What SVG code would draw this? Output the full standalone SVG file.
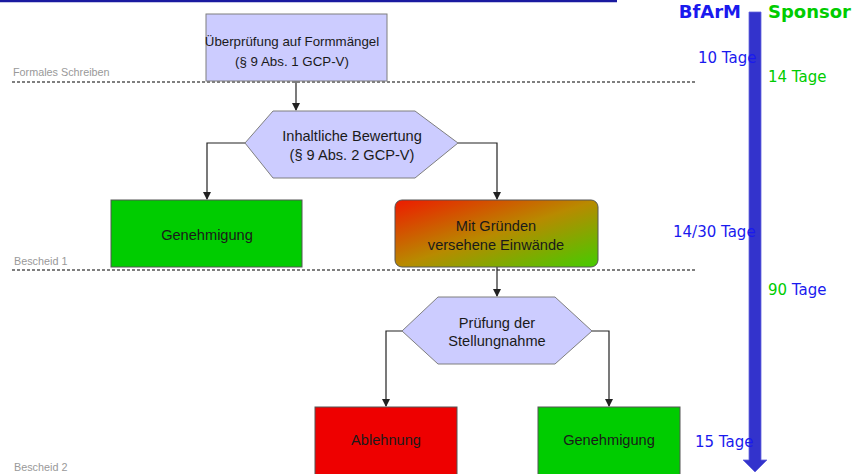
<svg xmlns="http://www.w3.org/2000/svg" width="855" height="474" viewBox="0 0 855 474">
<style>
.lav{fill:#ccccff;stroke:#7f7f7f;stroke-width:1}
.box{stroke:#555;stroke-width:1}
.t{font-family:"Liberation Sans",Arial,sans-serif;font-size:14.6px;fill:#1a1a1a;text-anchor:middle}
.s{font-size:13.3px}
.lab{font-family:"Liberation Sans",Arial,sans-serif;font-size:10.8px;fill:#999}
.sep{stroke:#555;stroke-width:1.5;stroke-dasharray:3,2;fill:none}
.c{stroke:#222;stroke-width:1.2;fill:none;marker-end:url(#ah)}
.v{font-family:"DejaVu Sans",Verdana,sans-serif;font-size:15px}
.h{font-family:"DejaVu Sans",Verdana,sans-serif;font-size:18px;font-weight:bold}
.b{fill:#1a1aee}
.g{fill:#00cc00}
</style>
<defs>
<marker id="ah" markerWidth="8" markerHeight="8" refX="7" refY="4" orient="auto" markerUnits="userSpaceOnUse">
<path d="M0,0 L8,4 L0,8 Z" fill="#222"/>
</marker>
<linearGradient id="rg" x1="0" y1="0" x2="1" y2="1">
<stop offset="0" stop-color="#ee1a00"/>
<stop offset="0.5" stop-color="#b88a00"/>
<stop offset="1" stop-color="#44cc00"/>
</linearGradient>
</defs>
<line x1="0" y1="1" x2="617" y2="1" stroke="#1a1aa0" stroke-width="2.5"/>
<g id="separators">
<line class="sep" x1="12" y1="82" x2="695" y2="82"/>
<line class="sep" x1="12" y1="270" x2="695" y2="270"/>
<text class="lab" x="13" y="76">Formales Schreiben</text>
<text class="lab" x="14" y="265">Bescheid 1</text>
<text class="lab" x="14" y="471">Bescheid 2</text>
</g>
<g id="connectors">
<line class="c" x1="296" y1="81" x2="296" y2="110"/>
<polyline class="c" points="245,143 207,143 207,199"/>
<polyline class="c" points="458,143 497,143 497,199"/>
<line class="c" x1="497" y1="267" x2="497" y2="296"/>
<polyline class="c" points="402,331 386,331 386,406"/>
<polyline class="c" points="592,331 609,331 609,406"/>
</g>
<g id="n1">
<rect class="lav" x="206" y="14" width="181" height="67"/>
<text class="t s" x="292" y="46">Überprüfung auf Formmängel</text>
<text class="t s" x="292" y="66">(§ 9 Abs. 1 GCP-V)</text>
</g>
<g id="n2">
<polygon class="lav" points="245,143 273,111 415,111 458,143 415,178 273,178"/>
<text class="t" x="352" y="141">Inhaltliche Bewertung</text>
<text class="t" x="352" y="160">(§ 9 Abs. 2 GCP-V)</text>
</g>
<g id="n3">
<rect class="box" x="111" y="200" width="191" height="67" fill="#00cc00"/>
<text class="t" x="207" y="240">Genehmigung</text>
</g>
<g id="n4">
<rect class="box" x="395" y="200" width="203" height="67" rx="7" fill="url(#rg)"/>
<text class="t" x="496" y="231">Mit Gründen</text>
<text class="t" x="496" y="250">versehene Einwände</text>
</g>
<g id="n5">
<polygon class="lav" points="402,331 438,297 555,297 592,331 555,364 438,364"/>
<text class="t" x="497" y="328">Prüfung der</text>
<text class="t" x="497" y="346">Stellungnahme</text>
</g>
<g id="n6">
<rect class="box" x="315" y="407" width="142" height="70" fill="#ee0000"/>
<text class="t" x="386" y="445">Ablehnung</text>
</g>
<g id="n7">
<rect class="box" x="538" y="407" width="142" height="70" fill="#00cc00"/>
<text class="t" x="609" y="445">Genehmigung</text>
</g>
<g id="timeline">
<path d="M749,12 L761,12 L761,460 L767,460 L755,472 L743,460 L749,460 Z" fill="#3333cc" stroke="#6666dd" stroke-width="0.8"/>
<text class="h b" x="741" y="18" text-anchor="end">BfArM</text>
<text class="h g" x="768" y="18">Sponsor</text>
<text class="v b" x="698" y="63">10 Tage</text>
<text class="v g" x="768" y="82">14 Tage</text>
<text class="v b" x="673" y="237">14/30 Tage</text>
<text class="v" x="768" y="295"><tspan class="g">90</tspan><tspan class="b"> Tage</tspan></text>
<text class="v b" x="695" y="447">15 Tage</text>
</g>
</svg>
